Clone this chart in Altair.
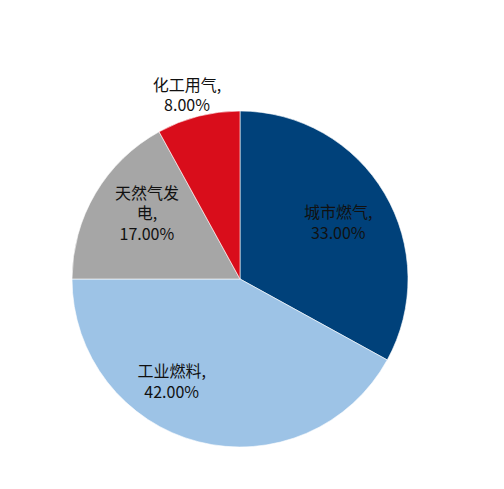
import altair as alt
import pandas as pd

categories = ["城市燃气", "工业燃料", "天然气发电", "化工用气"]
values = [33, 42, 17, 8]
labels = ["城市燃气,\n33.00%", "工业燃料,\n42.00%", "天然气发\n电,\n17.00%", "化工用气,\n8.00%"]
colors = ["#00417A", "#9DC3E6", "#A6A6A6", "#D90D1B"]

df = pd.DataFrame({
    "category": categories,
    "value": values,
    "label": labels,
    "order": list(range(len(categories))),
})

CX, CY = 232, 271

base = alt.Chart(df).transform_window(
    cum="sum(value)", sort=[alt.SortField("order")], frame=[None, 0]
).transform_calculate(mid="datum.cum - datum.value / 2")

arc = alt.Chart(df).mark_arc(outerRadius=168, stroke="white", strokeWidth=0.6).encode(
    theta=alt.Theta("value:Q", stack=True),
    order=alt.Order("order:Q"),
    color=alt.Color("category:N", scale=alt.Scale(domain=categories, range=colors), legend=None),
    x=alt.value(CX),
    y=alt.value(CY),
)

label_pos = {
    "城市燃气": (113, 1, -8),
    "工业燃料": (118, -39, -21),
    "天然气发电": (114, 5, -27),
    "化工用气": (189, -6, -10),
}

layers = [arc]
for cat in categories:
    r, dx, dy = label_pos[cat]
    t = base.transform_filter(alt.datum.category == cat).mark_text(
        font="Noto Sans CJK SC", fontSize=16, color="#111111", lineBreak="\n",
        lineHeight=20.5, align="center", baseline="middle", dx=dx, dy=dy,
    ).encode(
        theta=alt.Theta("mid:Q", scale=alt.Scale(domain=[0, 100])),
        radius=alt.value(r),
        text="label:N",
        x=alt.value(CX),
        y=alt.value(CY),
    )
    layers.append(t)

chart = alt.layer(*layers).resolve_scale(theta="independent").properties(
    width=488, height=473, padding=0, autosize="none"
).configure_view(stroke=None)

chart.save("out.html", embed_options={"renderer": "svg", "actions": False})
